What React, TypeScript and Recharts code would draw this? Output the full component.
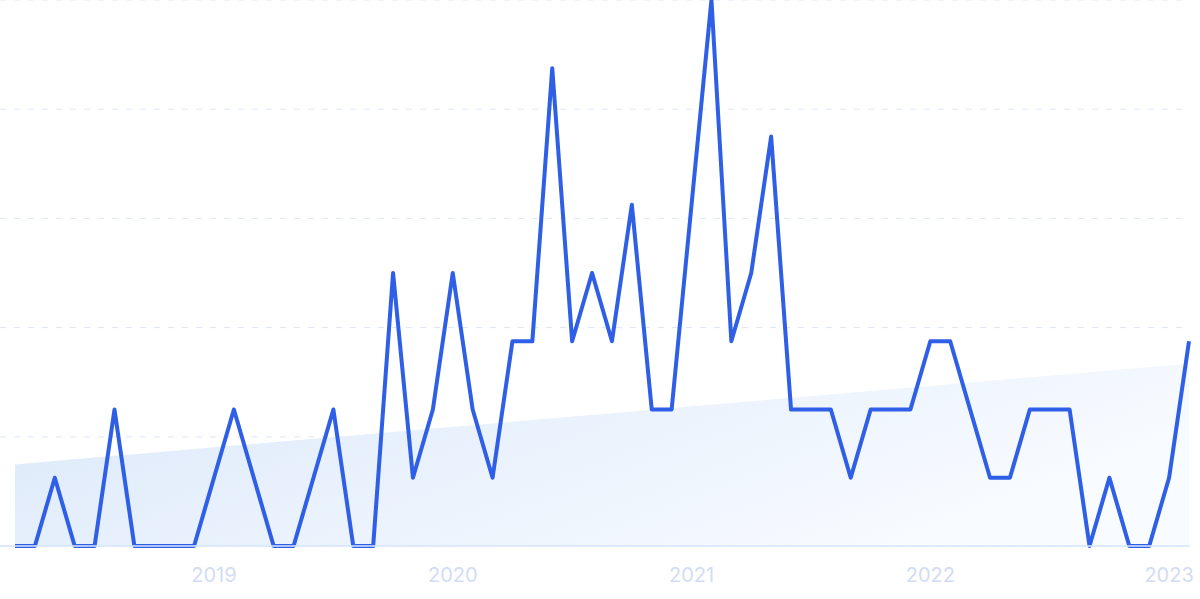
import {
  ComposedChart,
  Line,
  Area,
  XAxis,
  YAxis,
  CartesianGrid,
} from 'recharts'

// one label per month, Mar 2018 .. Feb 2023
const months = [
  '2018-03', '2018-04', '2018-05', '2018-06', '2018-07', '2018-08', '2018-09', '2018-10', '2018-11', '2018-12',
  '2019-01', '2019-02', '2019-03', '2019-04', '2019-05', '2019-06', '2019-07', '2019-08', '2019-09', '2019-10', '2019-11', '2019-12',
  '2020-01', '2020-02', '2020-03', '2020-04', '2020-05', '2020-06', '2020-07', '2020-08', '2020-09', '2020-10', '2020-11', '2020-12',
  '2021-01', '2021-02', '2021-03', '2021-04', '2021-05', '2021-06', '2021-07', '2021-08', '2021-09', '2021-10', '2021-11', '2021-12',
  '2022-01', '2022-02', '2022-03', '2022-04', '2022-05', '2022-06', '2022-07', '2022-08', '2022-09', '2022-10', '2022-11', '2022-12',
  '2023-01', '2023-02',
]

const interest = [
  0, 0, 12.5, 0, 0, 25, 0, 0, 0, 0,
  12.5, 25, 12.5, 0, 0, 12.5, 25, 0, 0, 50, 12.5, 25,
  50, 25, 12.5, 37.5, 37.5, 87.5, 37.5, 50, 37.5, 62.5, 25, 25,
  62.5, 100, 37.5, 50, 75, 25, 25, 25, 12.5, 25, 25, 25,
  37.5, 37.5, 25, 12.5, 12.5, 25, 25, 25, 0, 12.5, 0, 0,
  12.5, 37.5,
]

const yearTicks = ['2019-01', '2020-01', '2021-01', '2022-01', '2023-01']
const gridTicks = [0, 20, 40, 60, 80, 100]

// least-squares trend of the series, drawn as the shaded area
const n = interest.length
const meanX = (n - 1) / 2
const meanY = interest.reduce((s, v) => s + v, 0) / n
let sxy = 0
let sxx = 0
interest.forEach((v, i) => {
  sxy += (i - meanX) * (v - meanY)
  sxx += (i - meanX) * (i - meanX)
})
const slope = sxy / sxx

const data = months.map((month, i) => ({
  month,
  value: interest[i],
  trend: meanY + slope * (i - meanX),
}))

export default function App() {
  return (
    <div style={{ position: 'absolute', left: 0, top: 0, background: '#fff' }}>
      <ComposedChart
        width={1200}
        height={599}
        data={data}
        margin={{ top: 0, right: 10, bottom: 0, left: 0 }}
      >
        <defs>
          <linearGradient id="trendFill" x1="0" y1="0" x2="1" y2="0.4">
            <stop offset="0%" stopColor="#dbe8fa" />
            <stop offset="100%" stopColor="#f8fbff" />
          </linearGradient>
        </defs>
        <CartesianGrid
          vertical={false}
          stroke="#dde5fb"
          strokeDasharray="6 8"
        />
        <XAxis
          dataKey="month"
          ticks={yearTicks}
          interval={0}
          tickFormatter={(v: string) => v.slice(0, 4)}
          padding={{ left: 15, right: 1 }}
          axisLine={{ stroke: '#d6e5fa', strokeWidth: 1.5 }}
          tickLine={false}
          tickSize={0}
          tickMargin={22}
          height={53}
          tick={{ fill: '#d3dcf5', fontSize: 20, fontFamily: 'Inter' }}
        />
        <YAxis hide domain={[0, 100]} ticks={gridTicks} />
        <Area
          type="linear"
          dataKey="trend"
          stroke="none"
          fill="url(#trendFill)"
          fillOpacity={1}
          dot={false}
          activeDot={false}
          isAnimationActive={false}
        />
        <Line
          type="linear"
          dataKey="value"
          stroke="#2e5fe6"
          strokeWidth={4}
          strokeLinejoin="round"
          dot={false}
          activeDot={false}
          isAnimationActive={false}
        />
      </ComposedChart>
    </div>
  )
}
